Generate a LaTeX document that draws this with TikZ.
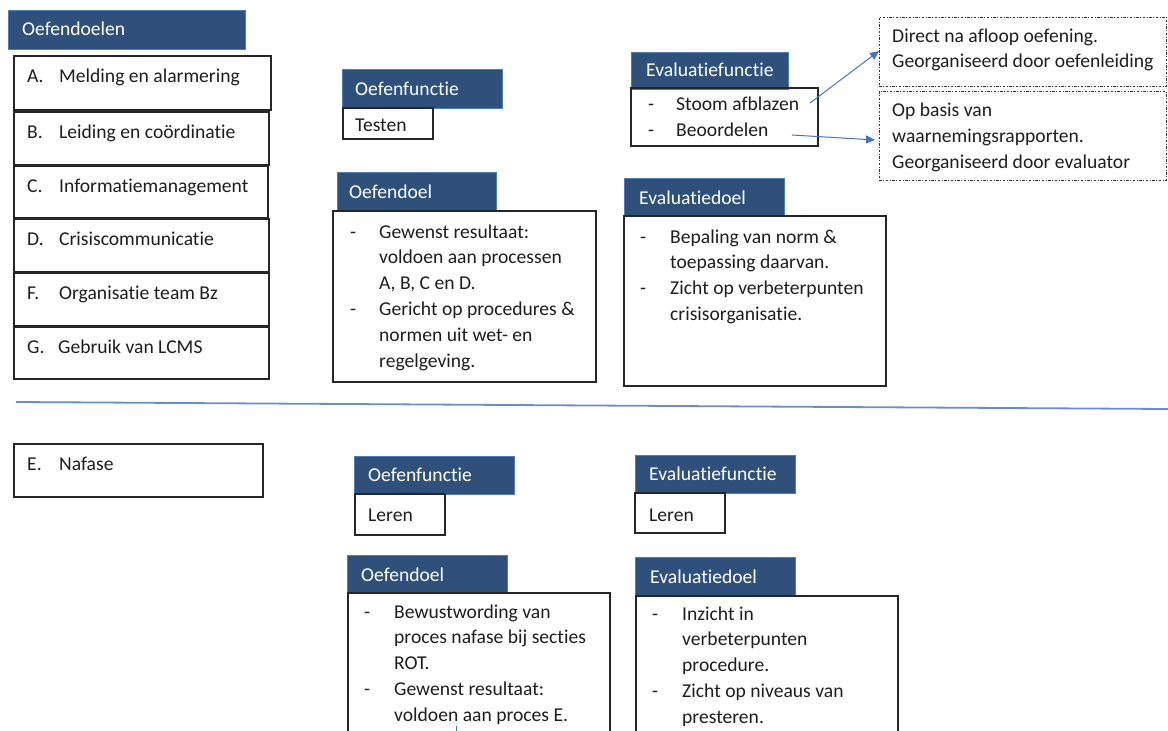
\documentclass[tikz,border=0pt]{standalone}
\usepackage{fontspec}
\setmainfont{Carlito}[Ligatures={NoCommon,NoContextual}]
\usetikzlibrary{arrows.meta}
\definecolor{hdr}{RGB}{46,80,122}
\definecolor{hdrline}{RGB}{80,125,185}
\definecolor{arr}{RGB}{68,114,196}
\definecolor{ink}{RGB}{30,30,30}
\newcommand\itm[2]{\hbox{\hbox to #1{-\hfil}#2}}
\newcommand\cnt[2]{\hbox{\kern#1#2}}
\tikzset{
  hdrbox/.style={draw=hdrline, line width=0.8pt, fill=hdr, anchor=north west, inner sep=0pt, outer sep=0pt},
  hdrtxt/.style={text=white, anchor=base west, inner sep=0pt, font=\fontsize{19.6}{25.8}\selectfont},
  framebox/.style={draw=black!85, line width=1.2pt, anchor=north west, inner sep=0pt, outer sep=0pt},
  dotbox/.style={draw=black!80, line width=0.8pt, dash pattern=on 2.5pt off 1.5pt on 1pt off 1.5pt, anchor=north west, inner sep=0pt, outer sep=0pt},
  bodytxt/.style={text=ink, anchor=base west, inner sep=0pt, font=\fontsize{19.6}{25.8}\selectfont},
  conn/.style={draw=arr, line width=1pt, -{Triangle[length=9pt,width=8pt]}},
  divider/.style={draw=arr!80, line width=1.8pt},
}
\begin{document}
\begin{tikzpicture}[x=1pt,y=-1pt]
\useasboundingbox (0,0) rectangle (1168,731);
\fill[white] (0,0) rectangle (1168,731);

% ---------- left column ----------
\node[hdrbox, minimum width=237pt, minimum height=39pt] (hOD) at (8,10) {};
\node[hdrtxt] (thOD) at (22,35) {Oefendoelen};

\node[framebox, minimum width=257pt, minimum height=54pt] (bA) at (14,56) {};
\node[bodytxt] (tA) at (27,82) {\makebox[32pt][l]{A.}Melding en alarmering};
\node[framebox, minimum width=255pt, minimum height=53pt] (bB) at (14,112) {};
\node[bodytxt] (tB) at (27,138) {\makebox[32pt][l]{B.}Leiding en coördinatie};
\node[framebox, minimum width=254pt, minimum height=52pt] (bC) at (14,166) {};
\node[bodytxt] (tC) at (27,192) {\makebox[32pt][l]{C.}Informatiemanagement};
\node[framebox, minimum width=255pt, minimum height=53pt] (bD) at (14,219) {};
\node[bodytxt] (tD) at (27,245) {\makebox[32pt][l]{D.}Crisiscommunicatie};
\node[framebox, minimum width=255pt, minimum height=53pt] (bF) at (14,273) {};
\node[bodytxt] (tF) at (27,299) {\makebox[32pt][l]{F.}Organisatie team Bz};
\node[framebox, minimum width=255pt, minimum height=52pt] (bG) at (14,327) {};
\node[bodytxt] (tG) at (27,353) {\makebox[31pt][l]{G.}Gebruik van LCMS};

\node[framebox, minimum width=249pt, minimum height=53pt] (bE) at (14,444) {};
\node[bodytxt] (tE) at (27,470) {\makebox[32pt][l]{E.}Nafase};

% ---------- top middle ----------
\node[hdrbox, minimum width=160pt, minimum height=39pt] (hOF1) at (342,69) {};
\node[hdrtxt] (thOF1) at (355,95) {Oefenfunctie};
\node[framebox, minimum width=90pt, minimum height=31pt] (bOF1) at (343,108) {};
\node[bodytxt] (tOF1) at (355,131) {Testen};

\node[hdrbox, minimum width=159pt, minimum height=39pt] (hOD1) at (337,172) {};
\node[hdrtxt] (thOD1) at (349,198) {Oefendoel};
\node[framebox, minimum width=263pt, minimum height=171pt] (bOD1) at (333,211) {};
\node[bodytxt] (tOD1) at (350,238) {\vtop{%
  \itm{29pt}{Gewenst resultaat:}
  \cnt{29pt}{voldoen aan processen}
  \cnt{29pt}{A, B, C en D.}
  \itm{29pt}{Gericht op procedures \&}
  \cnt{29pt}{normen uit wet- en}
  \cnt{29pt}{regelgeving.}}};

% ---------- top right ----------
\node[hdrbox, minimum width=157pt, minimum height=37pt] (hEF1) at (631,52) {};
\node[hdrtxt] (thEF1) at (646,76) {Evaluatiefunctie};
\node[framebox, minimum width=187pt, minimum height=58pt] (bEF1) at (631,88) {};
\node[bodytxt] (tEF1a) at (648,110) {\makebox[28pt][l]{-}Stoom afblazen};
\node[bodytxt] (tEF1b) at (648,136) {\makebox[28pt][l]{-}Beoordelen};

\node[dotbox, minimum width=287pt, minimum height=69pt] (dot1) at (879,17) {};
\node[bodytxt] (tdot1a) at (892,42) {Direct na afloop oefening.};
\node[bodytxt] (tdot1b) at (892,67) {Georganiseerd door oefenleiding};
\node[dotbox, minimum width=287pt, minimum height=89pt] (dot2) at (879,91) {};
\node[bodytxt] (tdot2a) at (892,116) {Op basis van};
\node[bodytxt] (tdot2b) at (892,142) {waarnemingsrapporten.};
\node[bodytxt] (tdot2c) at (892,168) {Georganiseerd door evaluator};

\node[hdrbox, minimum width=160pt, minimum height=38pt] (hED1) at (624,178) {};
\node[hdrtxt] (thED1) at (639,204) {Evaluatiedoel};
\node[framebox, minimum width=262pt, minimum height=170pt] (bED1) at (624,216) {};
\node[bodytxt] (tED1) at (640,243) {\vtop{%
  \itm{30pt}{Bepaling van norm \&}
  \cnt{30pt}{toepassing daarvan.}
  \itm{30pt}{Zicht op verbeterpunten}
  \cnt{30pt}{crisisorganisatie.}}};

% arrows
\coordinate (a1s) at (810,103);
\coordinate (a1e) at (879,51);
\coordinate (a2s) at (792,135);
\coordinate (a2e) at (875,140);
\draw[conn] (a1s) -- (a1e);
\draw[conn] (a2s) -- (a2e);

% divider
\coordinate (dvL) at (16,402);
\coordinate (dvR) at (1168,409);
\draw[divider] (dvL) -- (dvR);

% ---------- bottom ----------
\node[hdrbox, minimum width=160pt, minimum height=38pt] (hOF2) at (354,456) {};
\node[hdrtxt] (thOF2) at (368,481) {Oefenfunctie};
\node[framebox, minimum width=90pt, minimum height=41pt] (bOF2) at (355,494) {};
\node[bodytxt] (tOF2) at (368,521) {Leren};

\node[hdrbox, minimum width=160pt, minimum height=38pt] (hEF2) at (635,455) {};
\node[hdrtxt] (thEF2) at (649,480) {Evaluatiefunctie};
\node[framebox, minimum width=90pt, minimum height=40pt] (bEF2) at (635,493) {};
\node[bodytxt] (tEF2) at (649,521) {Leren};

\node[hdrbox, minimum width=160pt, minimum height=38pt] (hOD2) at (347,555) {};
\node[hdrtxt] (thOD2) at (361,581) {Oefendoel};
\node[framebox, minimum width=262pt, minimum height=160pt] (bOD2) at (348,593) {};
\node[bodytxt] (tOD2) at (364,618) {\vtop{%
  \itm{30pt}{Bewustwording van}
  \cnt{30pt}{proces nafase bij secties}
  \cnt{30pt}{ROT.}
  \itm{30pt}{Gewenst resultaat:}
  \cnt{30pt}{voldoen aan proces E.}}};

\node[hdrbox, minimum width=160pt, minimum height=39pt] (hED2) at (635,557) {};
\node[hdrtxt] (thED2) at (650,583) {Evaluatiedoel};
\node[framebox, minimum width=262pt, minimum height=160pt] (bED2) at (636,596) {};
\node[bodytxt] (tED2) at (652,620) {\vtop{%
  \itm{30pt}{Inzicht in}
  \cnt{30pt}{verbeterpunten}
  \cnt{30pt}{procedure.}
  \itm{30pt}{Zicht op niveaus van}
  \cnt{30pt}{presteren.}}};

\coordinate (tk1) at (456,726);
\coordinate (tk2) at (456,732);
\draw[draw=arr, line width=1pt] (tk1) -- (tk2);
\end{tikzpicture}
\end{document}
